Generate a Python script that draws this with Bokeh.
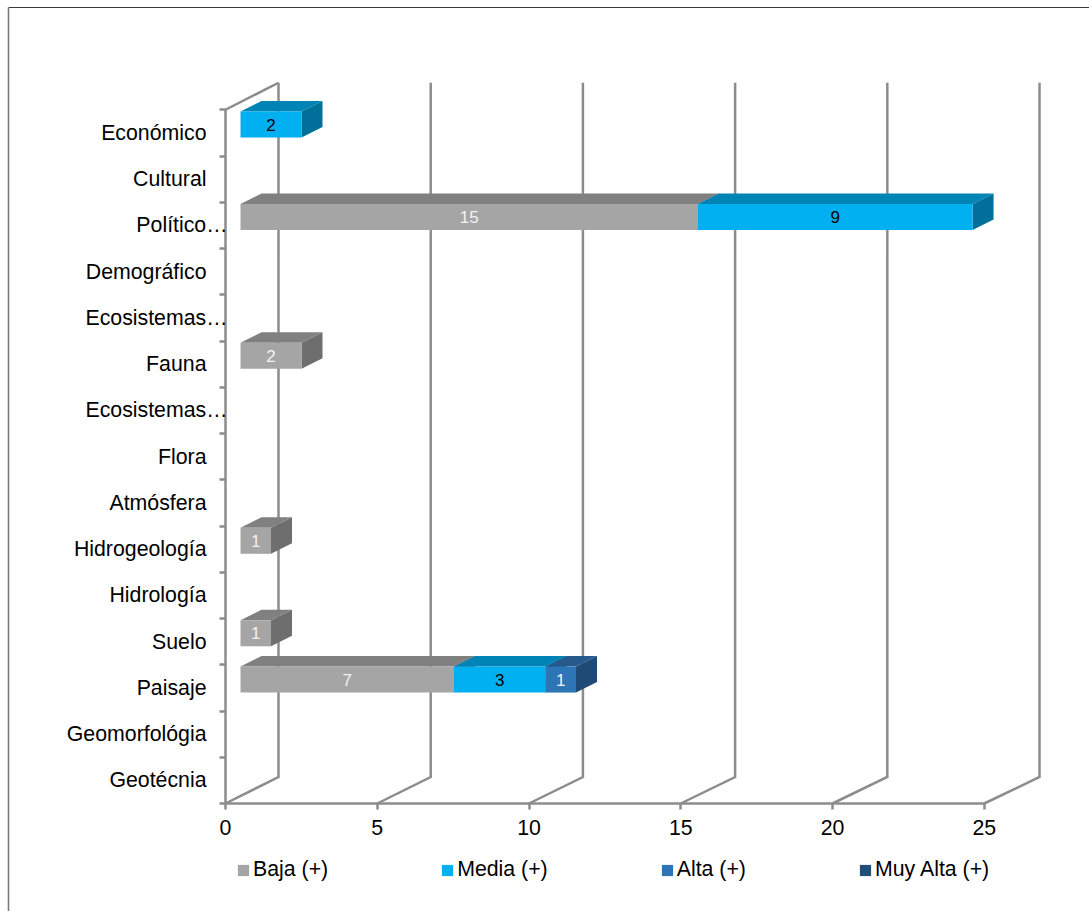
from bokeh.core.properties import value
from bokeh.embed import file_html
from bokeh.models import ColumnDataSource, FixedTicker, Legend, LegendItem, LinearAxis, Range1d
from bokeh.plotting import figure
from bokeh.resources import INLINE

# Categories from the bottom of the value axis upward
categories = ["Geotécnia", "Geomorfológia", "Paisaje", "Suelo", "Hidrología",
              "Hidrogeología", "Atmósfera", "Flora", "Ecosistemas…", "Fauna",
              "Ecosistemas…", "Demográfico", "Político…", "Cultural", "Económico"]

baja = [0, 0, 7, 1, 0, 1, 0, 0, 0, 2, 0, 0, 15, 0, 0]
media = [0, 0, 3, 0, 0, 0, 0, 0, 0, 0, 0, 0, 9, 0, 2]
alta = [0, 0, 1, 0, 0, 0, 0, 0, 0, 0, 0, 0, 0, 0, 0]
muy_alta = [0] * 15

series_names = ["Baja (+)", "Media (+)", "Alta (+)", "Muy Alta (+)"]
series_values = [baja, media, alta, muy_alta]
front_colors = ["#A5A5A5", "#00B0F0", "#2E75B6", "#1F4E79"]
top_colors = ["#808080", "#0084B5", "#27598C", "#1A3F63"]
side_colors = ["#6E6E6E", "#00709A", "#1F4A75", "#153652"]
label_colors = ["#F2F2F2", "#000000", "#F2F2F2", "#F2F2F2"]
value_ticks = [0, 5, 10, 15, 20, 25]

FONT = "Liberation Sans"
TEXT_SIZE = "21.3px"
WIDTH, HEIGHT = 1089, 911

# Plot scales: the frame fills the page, and the origin sits at pixel (225, 803)
X0, Y0 = 225, 803
PX_PER_UNIT = 30.35
PX_PER_CAT = 46.25


def ux(px):
    return px / PX_PER_UNIT


def uy(px):
    return px / PX_PER_CAT


p = figure(width=WIDTH, height=HEIGHT, output_backend="svg", toolbar_location=None,
           x_range=Range1d(ux(-X0), ux(WIDTH - X0)), y_range=Range1d(uy(Y0 - HEIGHT), uy(Y0)),
           x_axis_type=None, y_axis_type=None, min_border=0, outline_line_color=None,
           background_fill_color="white", border_fill_color="white")
p.grid.visible = False

AXIS_COLOR = "#8C8C8C"
LINE_W = 2.5
n = len(categories)

# Chart area border (top and left edges)
p.line([ux(8 - X0), ux(WIDTH - X0)], [uy(Y0 - 7)] * 2, line_color="#3A3A3A", line_width=1.2)
p.line([ux(8 - X0)] * 2, [uy(Y0 - 7), uy(Y0 - HEIGHT)], line_color="#7A7A7A", line_width=1.6)

# Receding floor lines and back wall gridlines; the back plane is very slightly wider
wall_dx, wall_dy = ux(53), uy(26.5)
wall_scale = 1.003
wall_top = n + uy(27)
p.multi_line([[v, v * wall_scale + wall_dx, v * wall_scale + wall_dx] for v in value_ticks],
             [[0, wall_dy, wall_top] for _ in value_ticks],
             line_color=AXIS_COLOR, line_width=LINE_W, line_join="miter")
p.line([0, wall_dx], [n, wall_top], line_color=AXIS_COLOR, line_width=LINE_W)

# Stacked 3D bars: each segment gets a side, a top and a front face
bar_start = ux(15)
bar_scale = 1.005
bar_shift = uy(8.3)
half_h = uy(13)
depth_x, depth_y = ux(21), uy(10.6)

legend_items = []
running = [0.0] * n
for name, vals, fc, tc, sc, lc in zip(series_names, series_values, front_colors,
                                      top_colors, side_colors, label_colors):
    left, right, bottom, top = [], [], [], []
    for i, v in enumerate(vals):
        a = bar_start + running[i] * bar_scale
        cy = i + 0.5 + bar_shift
        left.append(a)
        right.append(a + v * bar_scale)
        bottom.append(cy - half_h)
        top.append(cy + half_h)
        running[i] += v

    # Only non-empty segments get depth faces and a value label
    shown = [i for i, v in enumerate(vals) if v > 0]
    p.patches([[right[i], right[i] + depth_x, right[i] + depth_x, right[i]] for i in shown],
              [[bottom[i], bottom[i] + depth_y, top[i] + depth_y, top[i]] for i in shown],
              fill_color=sc, line_color=None)
    p.patches([[left[i], left[i] + depth_x, right[i] + depth_x, right[i]] for i in shown],
              [[top[i], top[i] + depth_y, top[i] + depth_y, top[i]] for i in shown],
              fill_color=tc, line_color=None)
    src = ColumnDataSource(dict(left=left, right=right, bottom=bottom, top=top))
    front = p.quad(left="left", right="right", bottom="bottom", top="top", source=src,
                   fill_color=fc, line_color=None)
    p.text([(left[i] + right[i]) / 2 for i in shown],
           [(bottom[i] + top[i]) / 2 for i in shown],
           text=[str(vals[i]) for i in shown], text_color=lc,
           text_align="center", text_baseline="middle",
           text_font=value(FONT), text_font_size="17px")
    legend_items.append(LegendItem(label=value(name), renderers=[front]))

# Value axis along the floor of the front plane
xaxis = LinearAxis(fixed_location=0, bounds=(0, value_ticks[-1]),
                   ticker=FixedTicker(ticks=value_ticks))
xaxis.axis_line_color = AXIS_COLOR
xaxis.axis_line_width = LINE_W
xaxis.major_tick_line_color = AXIS_COLOR
xaxis.major_tick_line_width = LINE_W
xaxis.major_tick_in = 0
xaxis.major_tick_out = 6
xaxis.minor_tick_out = 0
xaxis.major_label_standoff = 10
xaxis.major_label_text_font = FONT
xaxis.major_label_text_font_size = TEXT_SIZE
xaxis.major_label_text_color = "#000000"
p.add_layout(xaxis, "below")

# Category axis: labels at band centres, tick marks at band edges
full = [i for i, c in enumerate(categories) if not c.endswith("…")]
cut = [i for i, c in enumerate(categories) if c.endswith("…")]

yaxis = LinearAxis(fixed_location=0, bounds=(0, n),
                   ticker=FixedTicker(ticks=[i + 0.5 for i in full], minor_ticks=list(range(n + 1))),
                   major_label_overrides={i + 0.5: categories[i] for i in full})
yaxis.axis_line_color = AXIS_COLOR
yaxis.axis_line_width = LINE_W
yaxis.major_tick_line_color = None
yaxis.major_tick_in = 0
yaxis.major_tick_out = 0
yaxis.minor_tick_line_color = AXIS_COLOR
yaxis.minor_tick_line_width = LINE_W
yaxis.minor_tick_in = 0
yaxis.minor_tick_out = 6
yaxis.major_label_standoff = 18 - 5
yaxis.major_label_text_font = FONT
yaxis.major_label_text_font_size = TEXT_SIZE
yaxis.major_label_text_color = "#000000"
p.add_layout(yaxis, "left")

# Shortened names run up to the axis line, so they sit on an axis of their own
yaxis_cut = LinearAxis(fixed_location=0, bounds=(0, n),
                       ticker=FixedTicker(ticks=[i + 0.5 for i in cut]),
                       major_label_overrides={i + 0.5: categories[i] for i in cut})
yaxis_cut.axis_line_color = None
yaxis_cut.major_tick_line_color = None
yaxis_cut.minor_tick_line_color = None
yaxis_cut.major_tick_in = 0
yaxis_cut.major_tick_out = 0
yaxis_cut.major_label_standoff = -2
yaxis_cut.major_label_text_font = FONT
yaxis_cut.major_label_text_font_size = TEXT_SIZE
yaxis_cut.major_label_text_color = "#000000"
p.add_layout(yaxis_cut, "left")

legend = Legend(items=legend_items, orientation="horizontal", location=(236, HEIGHT - 882),
                glyph_width=14, glyph_height=14, label_standoff=3, spacing=112,
                padding=0, margin=0, border_line_color=None, background_fill_alpha=0,
                label_text_font=FONT, label_text_font_size=TEXT_SIZE, label_text_color="#000000")
p.add_layout(legend)

open("out.html", "w").write(file_html(p, INLINE))
